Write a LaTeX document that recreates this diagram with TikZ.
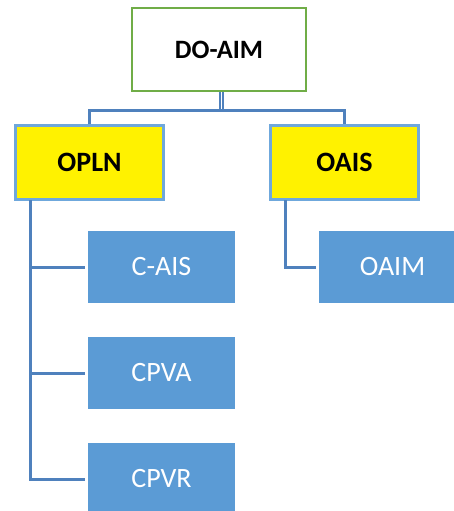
\documentclass[tikz,border=0pt]{standalone}
\usepackage{fontspec}
\setmainfont{Carlito}
\usetikzlibrary{positioning}
\definecolor{boxgreen}{HTML}{70AD47}
\definecolor{boxblue}{HTML}{5B9BD5}
\definecolor{edgeblue}{HTML}{6FA8DC}
\definecolor{lineblue}{HTML}{4F81BD}
\newcommand{\topFont}{\fontsize{26.5}{32}\selectfont\bfseries}
\newcommand{\midFont}{\fontsize{28}{34}\selectfont\bfseries}
\newcommand{\leafFont}{\fontsize{28}{34}\selectfont}

\begin{document}
\begin{tikzpicture}[x=1pt, y=-1pt,
    headbox/.style={draw=boxgreen, line width=2.5pt, fill=white, minimum width=174pt, minimum height=83pt, font=\topFont},
    deptbox/.style={draw=edgeblue, line width=2.5pt, fill=yellow, minimum width=148pt, minimum height=74pt, font=\midFont},
    unitbox/.style={fill=boxblue, text=white, minimum width=147pt, minimum height=72pt, font=\leafFont},
    conn/.style={draw=lineblue, line width=3pt}]
    \useasboundingbox (0,0) rectangle (454,511);

    \node[headbox] (doaim) at (219, 49.5) {DO-AIM};
    \node[deptbox] (opln) at (89.5, 162.5) {OPLN};
    \node[deptbox] (oais) at (344.5, 162.5) {OAIS};

    \node[unitbox] (cais) at (161.5, 267) {C-AIS};
    \node[unitbox] (cpva) at (161.5, 373) {CPVA};
    \node[unitbox] (cpvr) at (161.5, 479) {CPVR};
    \node[unitbox] (oaim) at (392.5, 267) {OAIM};

    \coordinate (split) at (221.5, 110.5);
    \coordinate (oplnfoot) at (30, 200);
    \coordinate (oaisfoot) at (285, 200);

    % head to departments
    \draw[conn, double=white, line width=2pt, double distance=1.5pt] (doaim.south -| split) -- (split);
    \draw[conn] (opln.north) |- (split) -| (oais.north);

    % departments to units
    \draw[conn, shorten >=3pt] (oplnfoot) |- (cpvr.west);
    \draw[conn, shorten >=3pt] (oplnfoot |- cais.west) -- (cais.west);
    \draw[conn, shorten >=3pt] (oplnfoot |- cpva.west) -- (cpva.west);
    \draw[conn, shorten >=3pt] (oaisfoot) |- (oaim.west);
\end{tikzpicture}
\end{document}
